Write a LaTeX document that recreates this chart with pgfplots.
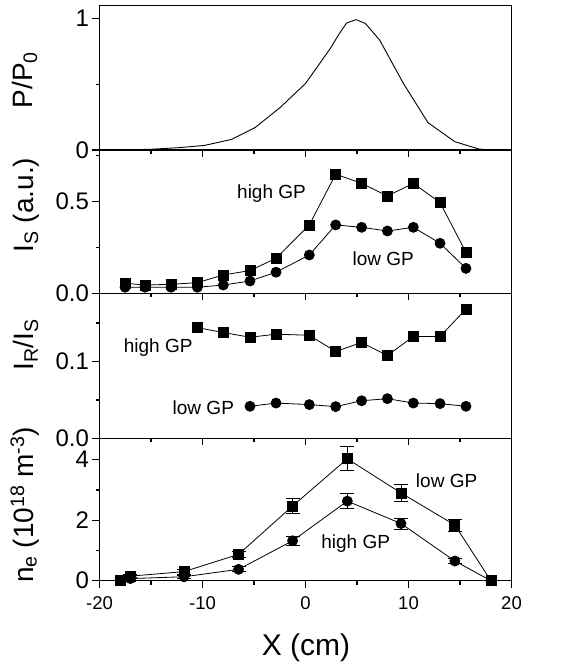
\documentclass[border=0pt]{standalone}
\usepackage{pgfplots}
\pgfplotsset{compat=1.18}
\usepackage{fontspec}
\setmainfont{Liberation Sans}
\newcommand\tl{\fontsize{24bp}{28bp}\selectfont}
\newcommand\lab{\fontsize{28bp}{32bp}\selectfont}
\newcommand\intxt{\fontsize{19bp}{22bp}\selectfont}
\begin{document}
\begin{tikzpicture}
\path[use as bounding box] (0bp,0bp) rectangle (567bp,667bp);
\pgfplotsset{
  panel/.style={
    scale only axis, width=412bp, xmin=-20, xmax=20, ymin=0,
    xtick={-20,-10,0,10,20}, minor xtick={-15,-5,5,15},
    xticklabels={},
    xtick pos=bottom, ytick pos=left, tick align=outside,
    major tick length=7bp, minor tick length=4bp,
    axis line style={line width=1.5bp},
    tick style={line width=1.2bp, black},
    yticklabel style={font=\tl},
    anchor=south west,
    clip=false,
  },
  dat/.style={black, line width=0.8bp, mark size=5bp},
}
% Panel 1
\begin{axis}[panel, at={(99.5bp,517bp)}, height=144.3bp, ymax=1.096,
  ytick={0,1}, minor ytick={0.5}, yticklabels={0,1}]
\addplot[black, line width=0.9bp] coordinates {
(-20,0) (-17,0.001) (-14.9,0.006) (-12.2,0.018) (-9.8,0.035) (-7.2,0.08)
(-4.9,0.17) (-2.5,0.32) (0,0.505) (2.4,0.77) (3.3,0.886) (4.0,0.965)
(4.9,0.99) (5.8,0.962) (7.2,0.835) (9.5,0.506) (11.9,0.207) (14.5,0.063)
(16.8,0.008) (18,0) (20,0)};
\end{axis}
% Panel 2
\begin{axis}[panel, at={(99.5bp,373.7bp)}, height=143.3bp, ymax=0.782,
  ytick={0,0.5}, minor ytick={0.25,0.75}, yticklabels={0.0,0.5}]
\addplot[dat, mark=square*] coordinates {
(-17.52,0.055) (-15.58,0.045) (-13.06,0.049) (-10.5,0.058) (-7.98,0.10)
(-5.39,0.124) (-2.86,0.191) (0.37,0.373) (2.93,0.65) (5.45,0.60)
(7.95,0.531) (10.47,0.60) (13.06,0.495) (15.58,0.224)};
\addplot[dat, mark=*] coordinates {
(-17.52,0.033) (-15.58,0.033) (-13.06,0.033) (-10.5,0.033) (-7.98,0.045)
(-5.39,0.067) (-2.86,0.115) (0.37,0.209) (2.93,0.373) (5.45,0.36)
(7.95,0.34) (10.47,0.36) (13.06,0.273) (15.58,0.136)};
\node[font=\intxt] at (axis cs:-3.3,0.546) {high GP};
\node[font=\intxt] at (axis cs:7.55,0.191) {low GP};
\end{axis}
% Panel 3
\begin{axis}[panel, at={(99.5bp,228.5bp)}, height=145.2bp, ymax=0.1885,
  ytick={0,0.1}, minor ytick={0.05,0.15}, yticklabels={0.0,0.1}]
\addplot[dat, mark=square*] coordinates {
(-10.5,0.144) (-7.98,0.1375) (-5.39,0.1315) (-2.86,0.1354) (0.37,0.134)
(2.93,0.113) (5.45,0.1246) (7.95,0.1078) (10.47,0.1324) (13.06,0.1324)
(15.58,0.168)};
\addplot[dat, mark=*] coordinates {
(-5.39,0.0418) (-2.86,0.046) (0.37,0.044) (2.93,0.0414) (5.45,0.049)
(7.95,0.0517) (10.47,0.046) (13.06,0.0453) (15.58,0.0418)};
\node[font=\intxt] at (axis cs:-14.3,0.118) {high GP};
\node[font=\intxt] at (axis cs:-9.92,0.0397) {low GP};
\end{axis}
% Panel 4
\begin{axis}[panel, at={(99.5bp,86.3bp)}, height=142.2bp, ymax=4.7,
  ytick={0,2,4}, minor ytick={1,3}, yticklabels={0,2,4},
  xticklabels={-20,-10,0,10,20},
  xticklabel style={font=\fontsize{18.5bp}{22bp}\selectfont, yshift=-5bp},
  error bars/error bar style={line width=0.9bp},
  error bars/error mark options={rotate=90, mark size=7bp, line width=0.9bp}]
\addplot[dat, mark=square*, error bars/.cd, y dir=both, y explicit]
coordinates {
(-18,0) +- (0,0) (-17,0.15) +- (0,0.05) (-11.8,0.3) +- (0,0.08)
(-6.5,0.87) +- (0,0.1) (-1.25,2.47) +- (0,0.25) (4.06,4.03) +- (0,0.4)
(9.27,2.9) +- (0,0.29) (14.5,1.84) +- (0,0.2) (18,0) +- (0,0)};
\addplot[dat, mark=*, error bars/.cd, y dir=both, y explicit]
coordinates {
(-18,0) +- (0,0) (-17,0.07) +- (0,0) (-11.8,0.13) +- (0,0.05)
(-6.5,0.375) +- (0,0.08) (-1.25,1.32) +- (0,0.15) (4.06,2.63) +- (0,0.25)
(9.27,1.89) +- (0,0.18) (14.5,0.65) +- (0,0.08) (18,0) +- (0,0)};
\node[font=\intxt] at (axis cs:13.7,3.32) {low GP};
\node[font=\intxt] at (axis cs:4.87,1.23) {high GP};
\end{axis}
% Axis labels
\node[font=\lab, rotate=90, anchor=base] at (32bp,587bp) {P/P\textsubscript{0}};
\node[font=\lab, rotate=90, anchor=base] at (33bp,462bp) {I\textsubscript{S} (a.u.)};
\node[font=\lab, rotate=90, anchor=base] at (33bp,322bp) {I\textsubscript{R}/I\textsubscript{S}};
\node[font=\lab, rotate=90, anchor=base] at (33bp,162bp) {n\textsubscript{e} (10\textsuperscript{18} m\textsuperscript{-3})};
\node[font=\fontsize{30bp}{34bp}\selectfont] at (306bp,19bp) {X (cm)};
\end{tikzpicture}
\end{document}
